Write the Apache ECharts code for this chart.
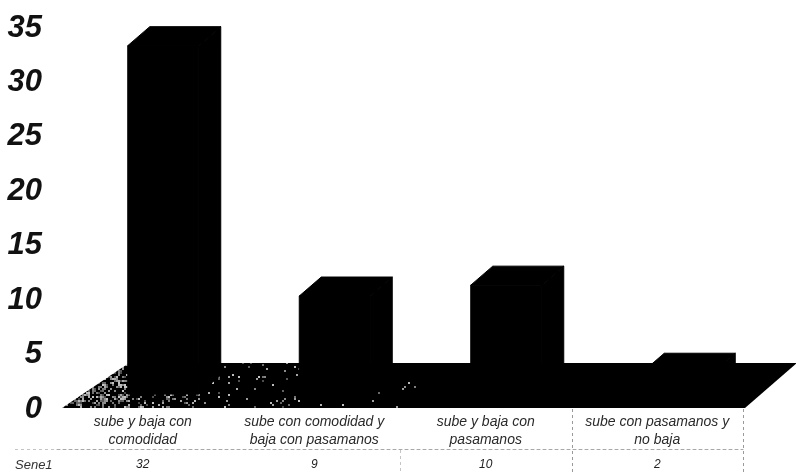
<!DOCTYPE html>
<html>
<head>
<meta charset="utf-8">
<style>html,body{margin:0;background:#fff}#chart{width:796px;height:473px}</style>
<script src="https://cdn.jsdelivr.net/npm/echarts@6/dist/echarts.min.js"></script>
</head>
<body>
<div id="chart"></div>
<script>
// Category names, one value per category, and the axis ticks
const categories = [
  'sube y baja con\ncomodidad',
  'sube con comodidad y\nbaja con pasamanos',
  'sube y baja con\npasamanos',
  'sube con pasamanos y\nno baja'
];
const serie1 = [32, 9, 10, 2];
const seriesName = 'Sene1';
const yTickStep = 5;
const yMax = 35;
// Category boundaries with a visible rule in the data table
const tableEdges = [2, 3, 4];

// Pseudo-3D geometry, in pixels
const DEPTH_X = 22, DEPTH_Y = 19, BAR_W = 71, BAR_SHIFT = -15, BAR_LIFT = 15;
const INK = '#000';

function renderBar(params, api) {
  const i = api.value(0);
  const base = api.coord([i, 0]);
  const top = api.coord([i, api.value(1)]);
  const l = base[0] + BAR_SHIFT, r = l + BAR_W;
  const yb = base[1] - BAR_LIFT, yt = top[1] - BAR_LIFT;
  const poly = pts => ({
    type: 'polygon', shape: { points: pts },
    style: { fill: INK, stroke: INK, lineWidth: 1 }
  });
  return {
    type: 'group',
    children: [
      poly([[l, yb], [r, yb], [r, yt], [l, yt]]),
      poly([[l, yt], [r, yt], [r + DEPTH_X, yt - DEPTH_Y], [l + DEPTH_X, yt - DEPTH_Y]]),
      poly([[r, yb], [r + DEPTH_X, yb - DEPTH_Y], [r + DEPTH_X, yt - DEPTH_Y], [r, yt]])
    ]
  };
}

// Halftone texture for the floor: speckles thin out from the left corner
function floorTexture(w, h) {
  const cv = document.createElement('canvas');
  cv.width = w; cv.height = h;
  const g = cv.getContext('2d');
  g.fillStyle = '#000';
  g.fillRect(0, 0, w, h);
  let seed = 12345;
  const next = () => (seed = (seed * 1103515245 + 12345) & 0x7fffffff) / 0x7fffffff;
  for (let y = 360; y < 410; y += 2) {
    for (let x = 60; x < 420; x += 2) {
      const density = x < 130 ? 0.4 : x < 200 ? 0.18 : x < 300 ? 0.05 : 0.01;
      if (next() < density) {
        const v = 70 + Math.floor(next() * 130);
        g.fillStyle = 'rgb(' + v + ',' + v + ',' + v + ')';
        g.fillRect(x, y, 2, 2);
      }
    }
  }
  return cv;
}

// The floor of the 3D plot, spanning the whole category band
function renderFloor(params, api) {
  const c = params.coordSys;
  const y0 = c.y + c.height - 1;
  return {
    type: 'polygon',
    shape: { points: [
      [c.x + 5, y0], [c.x + c.width + 2, y0],
      [c.x + c.width + 54, y0 - 45], [c.x + 72, y0 - 45]
    ] },
    style: {
      fill: { image: floorTexture(796, 473), repeat: 'no-repeat' }
    }
  };
}

// Vertical dashed rules of the data table; the middle one only crosses the value row
function renderRule(params, api) {
  const c = params.coordSys;
  const edge = api.value(0);
  const x = Math.round(c.x + c.width * edge / categories.length) + 0.5;
  const y0 = c.y + c.height;
  return {
    type: 'line',
    shape: { x1: x, y1: edge === 2 ? y0 + 41 : y0, x2: x, y2: y0 + 65 },
    style: { stroke: edge === 2 ? '#c4c4c4' : '#9a9a9a', lineWidth: 1, lineDash: [3, 3] }
  };
}

const chart = echarts.init(document.getElementById('chart'), null, { renderer: 'canvas' });

chart.setOption({
  animation: false,
  backgroundColor: '#fff',
  grid: { left: 57, right: 53, top: 28, bottom: 64, containLabel: false },
  xAxis: [
    {
      type: 'category',
      data: categories,
      axisLine: { show: false },
      axisTick: { show: false },
      axisLabel: {
        interval: 0, margin: 4, color: '#2a2a2a',
        fontFamily: 'Liberation Sans', fontStyle: 'italic', fontSize: 14, lineHeight: 18
      }
    },
    {
      type: 'category',
      position: 'bottom',
      offset: 40,
      data: serie1.map(String),
      axisLine: { show: true, onZero: false, lineStyle: { color: '#a8a8a8', width: 1, type: [3, 3] } },
      axisTick: { show: false },
      axisLabel: {
        interval: 0, margin: 10, color: '#222',
        fontFamily: 'Liberation Sans', fontStyle: 'italic', fontSize: 12
      }
    }
  ],
  yAxis: {
    type: 'value',
    min: 0,
    max: yMax,
    interval: yTickStep,
    axisLine: { show: false },
    axisTick: { show: false },
    splitLine: { show: false },
    axisLabel: {
      margin: 15, color: '#111',
      fontFamily: 'Liberation Sans', fontStyle: 'italic', fontWeight: 'bold', fontSize: 31
    }
  },
  series: [
    {
      type: 'custom', name: 'rules', coordinateSystem: 'cartesian2d',
      renderItem: renderRule, data: tableEdges.map(e => [e]),
      encode: { x: 0 }, silent: true, z: 0, clip: false
    },
    {
      type: 'custom', name: 'floor', coordinateSystem: 'cartesian2d',
      renderItem: renderFloor, data: [[0, 0]], silent: true, z: 1, clip: false
    },
    {
      type: 'custom', name: seriesName, coordinateSystem: 'cartesian2d',
      renderItem: renderBar,
      data: serie1.map((v, i) => [i, v]),
      encode: { x: 0, y: 1 }, z: 2, clip: false
    }
  ],
  graphic: [
    {
      type: 'text', left: 15, top: 459,
      style: { text: seriesName, fill: '#333', font: 'italic 13px "Liberation Sans"' }
    },
    {
      type: 'line', silent: true,
      shape: { x1: 15, y1: 449.5, x2: 57, y2: 449.5 },
      style: { stroke: '#c4c4c4', lineWidth: 1, lineDash: [3, 3] }
    }
  ]
});
</script>
</body>
</html>
